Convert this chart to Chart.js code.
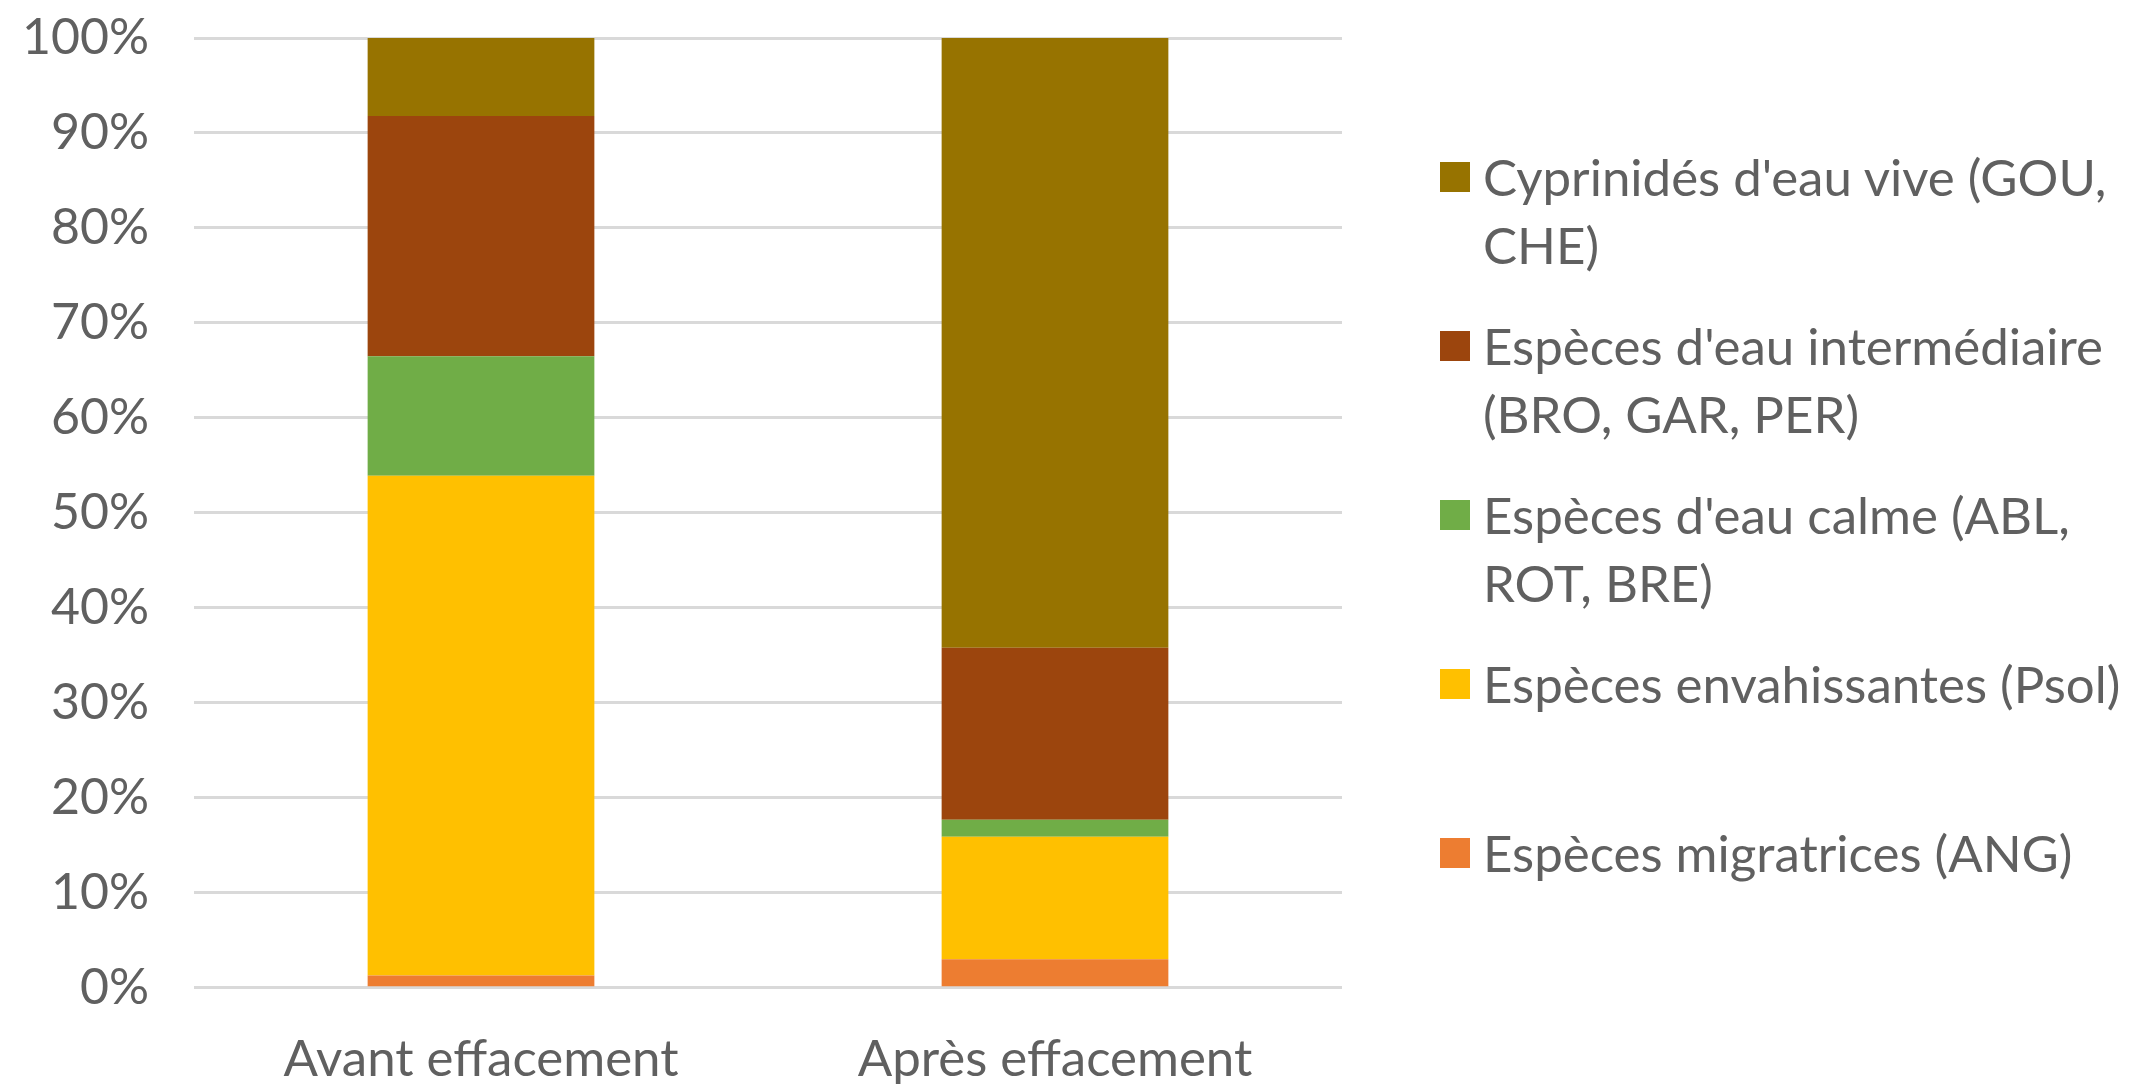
<!DOCTYPE html>
<html>
<head>
<meta charset="utf-8">
<script src="https://cdn.jsdelivr.net/npm/chart.js@4.4.1/dist/chart.umd.min.js"></script>
<style>
  body { margin: 0; background: #fff; font-family: Lato, sans-serif; }
  #wrap { position: relative; width: 2129px; height: 1084px; }
  #legend { position: absolute; left: 1440px; top: 143px; color: #606060; font-size: 51px; }
  .item { height: 169px; display: flex; align-items: flex-start; }
  .box { width: 30px; height: 30px; margin-top: 19px; margin-right: 13px; flex: none; }
  .txt { line-height: 68px; white-space: nowrap; }
</style>
</head>
<body>
<div id="wrap">
  <canvas id="fishChart"></canvas>
  <div id="legend"></div>
</div>
<script>
// categories (x axis)
let periods = ['Avant effacement', 'Après effacement']

// species groups, bottom of the stack first
let groupLines = [
    ['Espèces migratrices (ANG)'],
    ['Espèces envahissantes (Psol)'],
    ['Espèces d\'eau calme (ABL,', 'ROT, BRE)'],
    ['Espèces d\'eau intermédiaire', '(BRO, GAR, PER)'],
    ['Cyprinidés d\'eau vive (GOU,', 'CHE)']
]
let groupColors = ['#ED7D31', '#FFC000', '#70AD47', '#9C450D', '#977300']

// share of each group (%) per period
let migratrices = [1.3, 3.0]
let envahissantes = [52.6, 12.9]
let calme = [12.6, 1.8]
let intermediaire = [25.3, 18.1]
let cyprinides = [8.2, 64.2]

let yTicks = [0, 10, 20, 30, 40, 50, 60, 70, 80, 90, 100]

let seriesValues = [migratrices, envahissantes, calme, intermediaire, cyprinides]

let datasets = seriesValues.map(function (vals, i) {
    return {
        label: groupLines[i].join(' '),
        data: vals,
        backgroundColor: groupColors[i],
        borderWidth: 0,
        barPercentage: 0.395,
        categoryPercentage: 1
    }
})

let ctx = document.getElementById('fishChart').getContext('2d')

let fishChart = new Chart(ctx, {
    type: 'bar',
    data: { labels: periods, datasets: datasets },
    options: {
        responsive: true,
        maintainAspectRatio: false,
        animation: false,
        layout: { padding: { left: 20, right: 787, top: 0, bottom: -47 } },
        plugins: {
            legend: { display: false },
            tooltip: { enabled: false }
        },
        scales: {
            x: {
                stacked: true,
                grid: { display: false, drawTicks: false },
                border: { display: false },
                ticks: { color: '#606060', font: { family: 'Lato', size: 51 }, padding: 41 }
            },
            y: {
                stacked: true,
                min: 0,
                max: 100,
                afterBuildTicks: function (axis) {
                    axis.ticks = yTicks.map(v => ({ value: v }))
                },
                afterFit: function (axis) {
                    axis.width = 174
                    // tick padding should not push the plot down
                    axis.paddingTop = 38
                    axis.paddingBottom = 0
                },
                grid: { color: '#d9d9d9', lineWidth: 3, drawTicks: false },
                border: { display: false },
                ticks: {
                    color: '#606060',
                    font: { family: 'Lato', size: 50 },
                    padding: 45,
                    callback: v => v + '%'
                }
            }
        }
    }
})

// legend on the right, top group first
let legendDiv = document.getElementById('legend')
for (let i = groupLines.length - 1; i >= 0; i--) {
    let item = document.createElement('div')
    item.className = 'item'
    let box = document.createElement('div')
    box.className = 'box'
    box.style.background = groupColors[i]
    let txt = document.createElement('div')
    txt.className = 'txt'
    txt.innerHTML = groupLines[i].join('<br>')
    item.appendChild(box)
    item.appendChild(txt)
    legendDiv.appendChild(item)
}
</script>
</body>
</html>
